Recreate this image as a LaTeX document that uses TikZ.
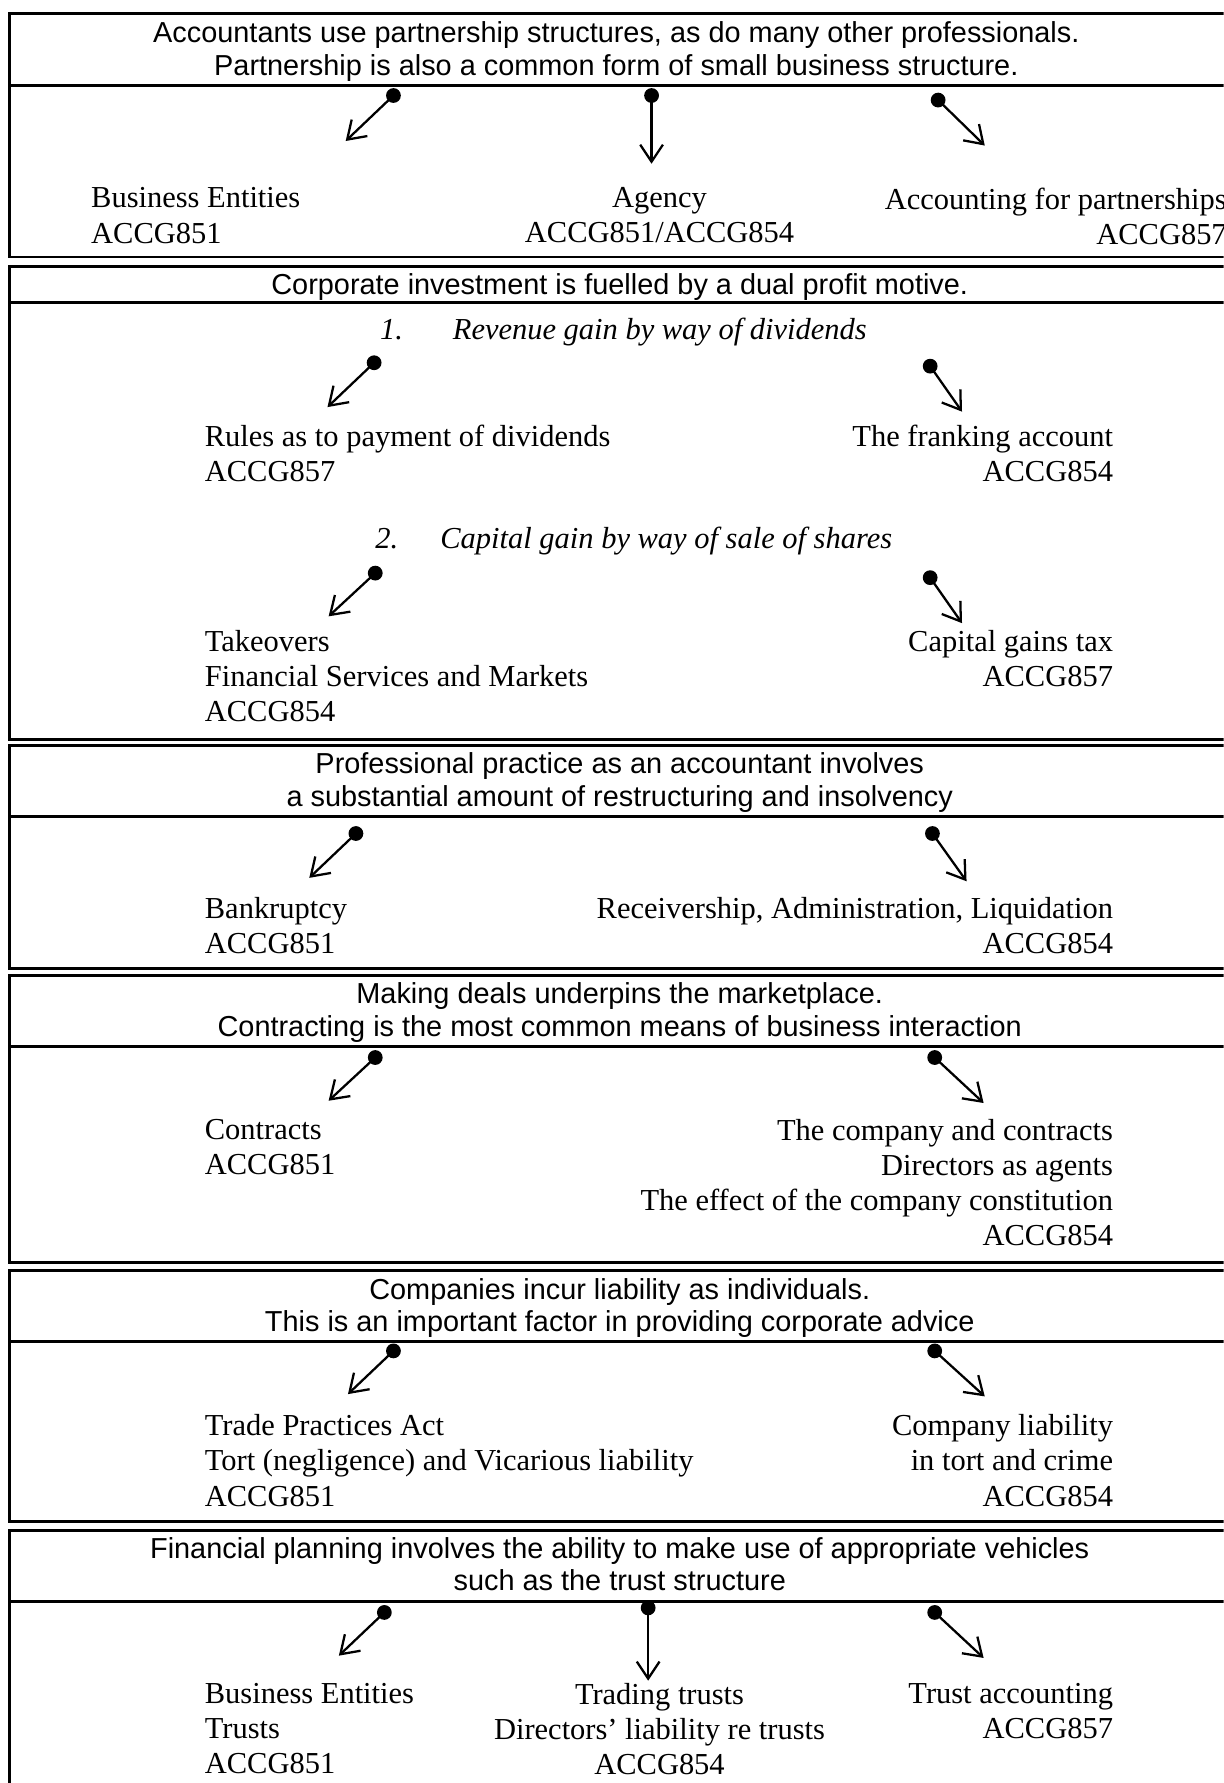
\documentclass[tikz,border=0pt]{standalone}
\usepackage{fontspec}
\setmainfont{Liberation Serif}
\newfontfamily\hdrfam{Liberation Sans}
\usetikzlibrary{arrows.meta}
\newcommand\hdrfont{\hdrfam\fontsize{25.4}{28.5}\selectfont}
\newcommand\bodyfont{\rmfamily\fontsize{26.8}{31}\selectfont}
\begin{document}
\begin{tikzpicture}[x=1pt,y=-1pt,
  box/.style={line width=2.6pt},
  hdr/.style={font=\hdrfont, align=center, anchor=north, inner sep=0pt, execute at begin node=\strut},
  bodyL/.style={font=\bodyfont, align=left, anchor=north west, inner sep=0pt, execute at begin node=\strut},
  bodyR/.style={font=\bodyfont, align=right, anchor=north east, inner sep=0pt, execute at begin node=\strut},
  bodyC/.style={font=\bodyfont, align=center, anchor=north, inner sep=0pt, execute at begin node=\strut},
  dot/.style={circle, fill=black, inner sep=0pt, minimum size=13pt},
  conn/.style={line width=2pt, -{Straight Barb[length=15pt,width=20pt,line width=2pt]}}
]
\useasboundingbox (0,0) rectangle (1076,1568);
\clip (0,0) rectangle (1076,1568);

% boxes: top, header rule, bottom
\foreach \t/\h/\b in {12/75/226, 234/266/650, 656/718/852, 858/920/1110, 1117/1180/1338, 1346/1408/1600}{
  \draw[box] (8,\t) rectangle (1100,\b);
  \draw[box] (8,\h) -- (1100,\h);
}

% headers
\node[hdr] (h1) at (542,19) {Accountants use partnership structures, as do many other professionals.\\Partnership is also a common form of small business structure.};
\node[hdr] (h2) at (545,239) {Corporate investment is fuelled by a dual profit motive.};
\node[hdr] (h3) at (545,662) {Professional practice as an accountant involves\\a substantial amount of restructuring and insolvency};
\node[hdr] (h4) at (545,864) {Making deals underpins the marketplace.\\Contracting is the most common means of business interaction};
\node[hdr] (h5) at (545,1124) {Companies incur liability as individuals.\\This is an important factor in providing corporate advice};
\node[hdr] (h6) at (545,1352) {Financial planning involves the ability to make use of appropriate vehicles\\such as the trust structure};

% box 1
\node[bodyL] (be1) at (80,164.8) {Business Entities\\ACCG851};
\node[bodyC] (ag1) at (580,164.8) {Agency\\ACCG851/ACCG854};
\node[bodyR] (ac1) at (1079,164.8) {Accounting for partnerships\\ACCG857};

% box 2
\node[bodyL] (i1) at (334,276.8) {\itshape 1.\hspace{44pt}Revenue gain by way of dividends};
\node[bodyL] (rd) at (180,373.8) {Rules as to payment of dividends\\ACCG857};
\node[bodyR] (fr) at (979,373.8) {The franking account\\ACCG854};
\node[bodyL] (i2) at (330,460.8) {\itshape 2.\hspace{37pt}Capital gain by way of sale of shares};
\node[bodyL] (tk) at (180,553.8) {Takeovers\\Financial Services and Markets\\ACCG854};
\node[bodyR] (cg) at (979,553.8) {Capital gains tax\\ACCG857};

% box 3
\node[bodyL] (bk) at (180,788.8) {Bankruptcy\\ACCG851};
\node[bodyR] (rv) at (979,788.8) {Receivership, Administration, Liquidation\\ACCG854};

% box 4
\node[bodyL] (ct) at (180,983.8) {Contracts\\ACCG851};
\node[bodyR] (cc) at (979,983.8) {The company and contracts\\Directors as agents\\The effect of the company constitution\\ACCG854};

% box 5
\node[bodyL] (tp) at (180,1243.8) {Trade Practices Act\\Tort (negligence) and Vicarious liability\\ACCG851};
\node[bodyR] (cl) at (979,1243.8) {Company liability\\in tort and crime\\ACCG854};

% box 6
\node[bodyL] (be6) at (180,1479.8) {Business Entities\\Trusts\\ACCG851};
\node[bodyC] (tt) at (580,1479.8) {Trading trusts\\Directors’ liability re trusts\\ACCG854};
\node[bodyR] (ta) at (979,1479.8) {Trust accounting\\ACCG857};

% connectors: dot -> arrow tip
\foreach \n/\dx/\dy/\tx/\ty in {
  1a/346/84/304/124, 1b/573/84/573/144, 1c/825/88/866/128,
  2a/329/319/288/358, 2b/818/322/846/362,
  2c/330/504/289/542, 2d/818/508/846/548,
  3a/313/733/272/772, 3b/820/733/850/775,
  4a/330/930/289/968, 4b/822/930/865/970,
  5a/346/1188/306/1226, 5b/822/1188/866/1228,
  6a/338/1418/298/1456, 6b/570/1414/570/1478, 6c/822/1418/865/1458}{
  \node[dot] (d\n) at (\dx,\dy) {};
  \coordinate (t\n) at (\tx,\ty);
  \draw[conn] (d\n.center) -- (t\n);
}
\end{tikzpicture}
\end{document}
